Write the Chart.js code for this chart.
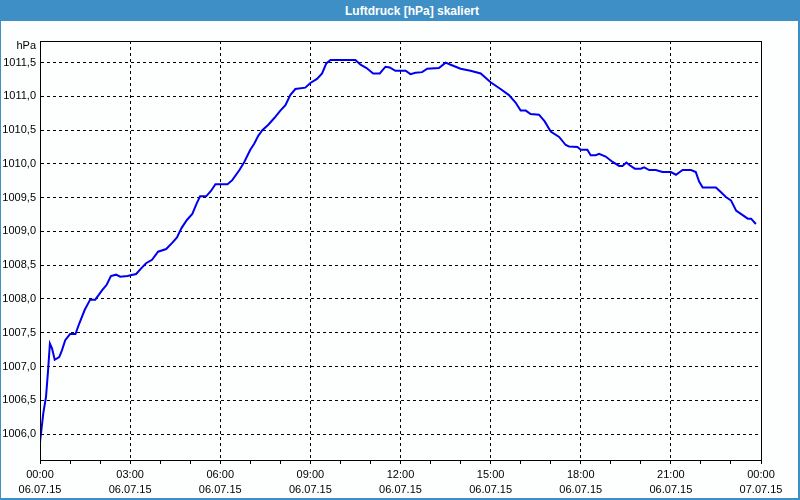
<!DOCTYPE html>
<html>
<head>
<meta charset="utf-8">
<script src="https://cdn.jsdelivr.net/npm/chart.js@4"></script>
<style>
  body { margin: 0; background: #fff; }
  #wrap { position: relative; width: 800px; height: 500px; background: #fdfffe; overflow: hidden; }
  #chart { position: absolute; left: 0; top: 0; }
  #titlebar {
    position: absolute; left: 0; top: 0; width: 800px; height: 21px;
    background: #3d8fc6; color: #fff;
    font: bold 12px "Liberation Sans", Arial, sans-serif;
  }
  #titlebar span { position: absolute; left: 345px; top: 4px; }
  #frame {
    position: absolute; left: 0; top: 0; width: 797px; height: 498px;
    border-left: 1px solid #3d8fc6; border-right: 2px solid #3d8fc6; border-bottom: 2px solid #3d8fc6;
    pointer-events: none;
  }
</style>
</head>
<body>
<div id="wrap">
  <canvas id="chart" width="800" height="500"></canvas>
  <div id="titlebar"><span>Luftdruck [hPa] skaliert</span></div>
  <div id="frame"></div>
</div>
<script>
// time of day in hours, pressure in hPa
const hours = [
  0.0, 0.11, 0.2, 0.27, 0.33, 0.4, 0.49, 0.64, 0.73, 0.84,
  1.0, 1.18, 1.31, 1.49, 1.67, 1.84, 2.07, 2.22, 2.36, 2.53,
  2.67, 2.91, 3.2, 3.36, 3.53, 3.73, 3.93, 4.2, 4.4, 4.56,
  4.71, 4.89, 5.07, 5.22, 5.33, 5.53, 5.69, 5.84, 6.07, 6.24,
  6.4, 6.64, 6.8, 7.0, 7.13, 7.27, 7.4, 7.6, 7.8, 8.0,
  8.17, 8.33, 8.5, 8.83, 9.0, 9.22, 9.39, 9.53, 9.67, 10.5,
  10.67, 10.87, 11.09, 11.31, 11.5, 11.64, 11.83, 12.17, 12.33, 12.5,
  12.72, 12.89, 13.28, 13.5, 13.67, 14.0, 14.33, 14.67, 15.0, 15.33,
  15.61, 15.83, 16.0, 16.17, 16.33, 16.61, 16.8, 17.0, 17.28, 17.5,
  17.61, 17.89, 18.0, 18.22, 18.33, 18.5, 18.61, 18.83, 19.06, 19.28,
  19.39, 19.52, 19.63, 19.8, 20.0, 20.11, 20.28, 20.5, 20.72, 21.0,
  21.17, 21.39, 21.67, 21.83, 21.94, 22.06, 22.5, 22.67, 22.83, 23.0,
  23.17, 23.33, 23.56, 23.67, 23.83
];
const pressure = [
  1005.88, 1006.31, 1006.55, 1006.95, 1007.34, 1007.27, 1007.10, 1007.14, 1007.24, 1007.39,
  1007.48, 1007.48, 1007.64, 1007.84, 1007.99, 1007.99, 1008.13, 1008.21, 1008.34, 1008.36,
  1008.33, 1008.34, 1008.37, 1008.45, 1008.53, 1008.58, 1008.70, 1008.74, 1008.83, 1008.91,
  1009.05, 1009.17, 1009.26, 1009.42, 1009.52, 1009.52, 1009.60, 1009.70, 1009.70, 1009.70,
  1009.76, 1009.91, 1010.03, 1010.21, 1010.30, 1010.42, 1010.50, 1010.58, 1010.68, 1010.79,
  1010.87, 1011.02, 1011.11, 1011.13, 1011.20, 1011.26, 1011.34, 1011.49, 1011.54, 1011.54,
  1011.47, 1011.42, 1011.34, 1011.34, 1011.44, 1011.43, 1011.38, 1011.38, 1011.33, 1011.35,
  1011.36, 1011.41, 1011.42, 1011.50, 1011.47, 1011.41, 1011.38, 1011.34, 1011.21, 1011.11,
  1011.02, 1010.91, 1010.79, 1010.79, 1010.74, 1010.73, 1010.63, 1010.48, 1010.40, 1010.28,
  1010.26, 1010.25, 1010.21, 1010.21, 1010.13, 1010.13, 1010.15, 1010.11, 1010.03, 1009.97,
  1009.97, 1010.02, 1009.98, 1009.93, 1009.93, 1009.95, 1009.91, 1009.91, 1009.88, 1009.88,
  1009.84, 1009.91, 1009.91, 1009.88, 1009.74, 1009.65, 1009.65, 1009.58, 1009.51, 1009.46,
  1009.31, 1009.26, 1009.19, 1009.19, 1009.11
];
const timeLabels = ["00:00", "03:00", "06:00", "09:00", "12:00", "15:00", "18:00", "21:00", "00:00"];
const dateLabels = ["06.07.15", "06.07.15", "06.07.15", "06.07.15", "06.07.15", "06.07.15", "06.07.15", "06.07.15", "07.07.15"];

const font = { family: "'Liberation Sans', Arial, sans-serif", size: 11 };

const framePlugin = {
  id: "frame",
  afterDraw(chart) {
    const { ctx, chartArea } = chart;
    ctx.save();
    ctx.strokeStyle = "#000";
    ctx.lineWidth = 1;
    ctx.strokeRect(chartArea.left + 0.5, chartArea.top + 0.5,
      chartArea.right - chartArea.left, chartArea.bottom - chartArea.top);
    ctx.fillStyle = "#000";
    ctx.font = "11px 'Liberation Sans', Arial, sans-serif";
    ctx.textAlign = "right";
    ctx.textBaseline = "middle";
    ctx.fillText("hPa", chartArea.left - 4, chartArea.top + 5);
    ctx.restore();
  }
};

new Chart(document.getElementById("chart"), {
  type: "line",
  data: {
    datasets: [{
      data: hours.map((h, i) => ({ x: h, y: pressure[i] })),
      borderColor: "#0000ee",
      borderWidth: 2,
      pointRadius: 0,
      tension: 0,
      fill: false,
    }]
  },
  options: {
    responsive: false,
    animation: false,
    layout: { padding: { top: 41, right: 39, left: 0, bottom: 0 } },
    plugins: {
      legend: { display: false },
      tooltip: { enabled: false },
    },
    scales: {
      x: {
        type: "linear",
        min: 0,
        max: 24,
        afterFit: (axis) => { axis.height = 40; },
        ticks: {
          stepSize: 1,
          autoSkip: false,
          maxRotation: 0,
          minRotation: 0,
          padding: 3,
          color: "#000",
          font: { ...font, lineHeight: 1.4 },
          callback: (v) => v % 3 === 0 ? [timeLabels[v / 3], dateLabels[v / 3]] : "",
        },
        grid: {
          color: (c) => (c.tick && c.tick.value % 3 === 0 && c.tick.value > 0 && c.tick.value < 24) ? "#000" : "rgba(0,0,0,0)",
          tickColor: "#000",
          tickLength: 4,
        },
        border: { color: "#000", dash: [3, 3] },
      },
      y: {
        min: 1005.615,
        max: 1011.821,
        afterFit: (axis) => { axis.width = 40; },
        afterBuildTicks: (axis) => {
          axis.ticks = axis.ticks.filter(t => Math.abs(t.value * 2 - Math.round(t.value * 2)) < 1e-6);
        },
        ticks: {
          stepSize: 0.5,
          padding: 4,
          color: "#000",
          font: font,
          callback: (v) => v.toFixed(1).replace(".", ","),
        },
        grid: {
          color: "#000",
          drawTicks: false,
        },
        border: { color: "#000", dash: [3, 3] },
      }
    }
  },
  plugins: [framePlugin]
});
</script>
</body>
</html>
